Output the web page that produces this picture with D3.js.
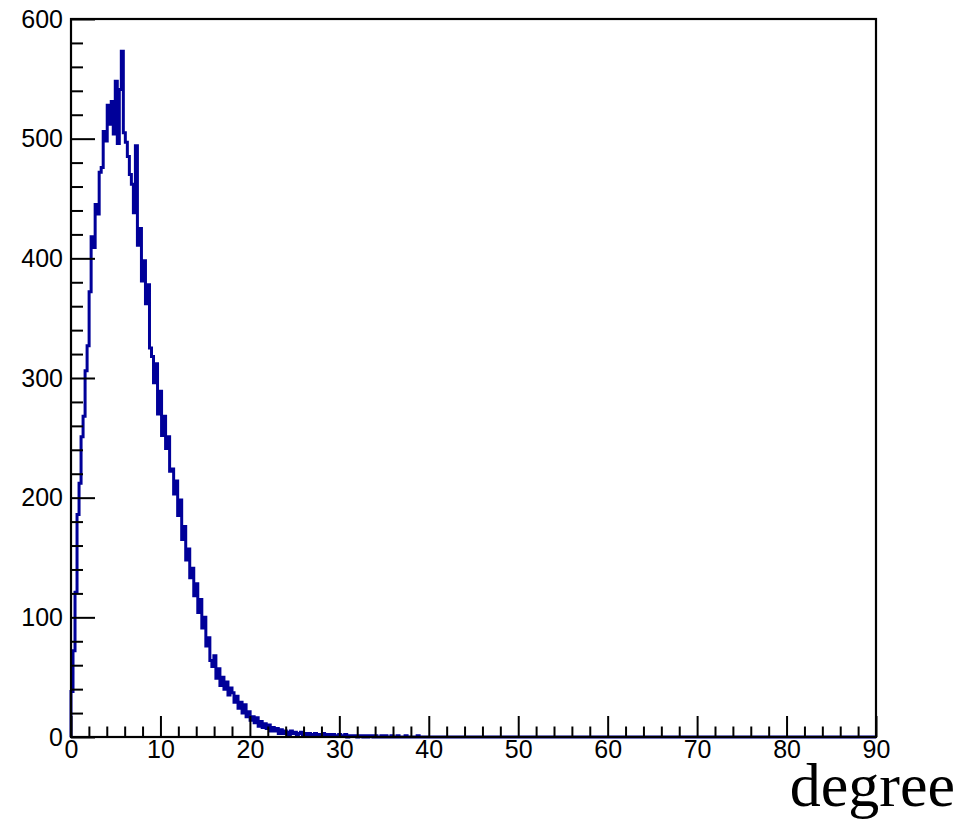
<!DOCTYPE html>
<html>
<head>
<meta charset="utf-8">
<script src="https://cdn.jsdelivr.net/npm/d3@7"></script>
<style>
  html, body { margin: 0; padding: 0; background: #fff; }
  svg { display: block; }
</style>
</head>
<body>
<svg id="chart" width="963" height="821"></svg>
<script>
// Histogram: 400 bins from 0 to 90 degree; bins beyond the listed ones are empty
const xMin = 0, xMax = 90, nBins = 400;
const binCounts = [
  38, 72, 121, 186, 212, 251, 268, 306, 327, 372,
  418, 409, 445, 437, 472, 476, 506, 498, 528, 512,
  531, 504, 548, 496, 541, 573, 505, 497, 485, 470,
  462, 438, 494, 411, 425, 381, 398, 362, 378, 325,
  318, 296, 312, 270, 289, 252, 268, 241, 251, 222,
  224, 203, 214, 185, 198, 165, 176, 148, 157, 133,
  141, 118, 128, 104, 115, 91, 100, 76, 83, 64,
  59, 68, 49, 57, 43, 50, 40, 46, 35, 41,
  37, 29, 34, 24, 29, 20, 27, 17, 21, 14,
  17, 12, 16, 9, 13, 8, 11, 7, 10, 5,
  8, 5, 7, 3, 6, 3, 5, 4, 2, 5,
  3, 4, 2, 3, 4, 2, 3, 2, 3, 2,
  2, 3, 2, 1, 2, 3, 1, 2, 2, 1,
  2, 1, 1, 2, 1, 1, 2, 0, 1, 1,
  1, 1, 0, 1, 1, 0, 1, 0, 1, 1,
  0, 1, 0, 0, 1, 0, 1, 0, 0, 1,
  0, 0, 1, 0, 0, 0, 1, 0, 0, 0, 0, 0, 1, 0, 0, 0, 0, 0
];
const xMajorTicks = [0, 10, 20, 30, 40, 50, 60, 70, 80, 90];
const yMajorTicks = [0, 100, 200, 300, 400, 500, 600];
const xTitle = "degree";

(function () {
const svg = d3.select("#chart");
const pLeft = 71, pRight = 876, pTop = 19, pBottom = 737;
const x = d3.scaleLinear().domain([xMin, xMax]).range([pLeft, pRight]);
const y = d3.scaleLinear().domain([0, 600]).range([pBottom, pTop]);

const binW = (xMax - xMin) / nBins;
const counts = binCounts.concat(new Array(nBins - binCounts.length).fill(0));
const pts = [[xMin, 0]];
counts.forEach((v, i) => pts.push([xMin + i * binW, v]));
pts.push([xMax, counts[nBins - 1]]);

const line = d3.line().x(d => x(d[0])).y(d => y(d[1])).curve(d3.curveStepAfter);

svg.append("path")
  .datum(pts)
  .attr("d", line)
  .attr("fill", "none")
  .attr("stroke", "#000099")
  .attr("stroke-width", 3)
  .attr("stroke-linejoin", "miter");

const xMinor = d3.range(0, 90.001, 2).filter(v => v % 10 !== 0);
const yMinor = d3.range(0, 600.001, 20).filter(v => v % 100 !== 0);

const font = "'Liberation Sans', Arial, Helvetica, sans-serif";

const gx = svg.append("g").attr("transform", `translate(0,${pBottom})`);
gx.call(d3.axisBottom(x).tickValues(xMajorTicks).tickSize(-21).tickPadding(5).tickFormat(d3.format("d")));
const gxm = svg.append("g").attr("transform", `translate(0,${pBottom})`);
gxm.call(d3.axisBottom(x).tickValues(xMinor).tickSize(-10.5).tickFormat(""));

const gy = svg.append("g").attr("transform", `translate(${pLeft},0)`);
gy.call(d3.axisLeft(y).tickValues(yMajorTicks).tickSize(-24).tickPadding(8).tickFormat(d3.format("d")));
const gym = svg.append("g").attr("transform", `translate(${pLeft},0)`);
gym.call(d3.axisLeft(y).tickValues(yMinor).tickSize(-12).tickFormat(""));

[gx, gxm, gy, gym].forEach(g => {
  g.select(".domain").remove();
  g.selectAll(".tick line").attr("stroke", "#000").attr("stroke-width", 2);
  g.selectAll("text").attr("fill", "#000").style("font-family", font).style("font-size", "25px");
});
gx.selectAll("text").attr("dy", "0.71em").attr("y", 3);

svg.append("rect")
  .attr("x", pLeft).attr("y", pTop)
  .attr("width", pRight - pLeft).attr("height", pBottom - pTop)
  .attr("fill", "none").attr("stroke", "#000").attr("stroke-width", 2.2);

svg.append("text")
  .attr("x", 955).attr("y", 806)
  .attr("text-anchor", "end")
  .style("font-family", "'Liberation Serif', 'Times New Roman', serif")
  .style("font-size", "62px")
  .attr("fill", "#000")
  .text(xTitle);
})();
</script>
</body>
</html>
